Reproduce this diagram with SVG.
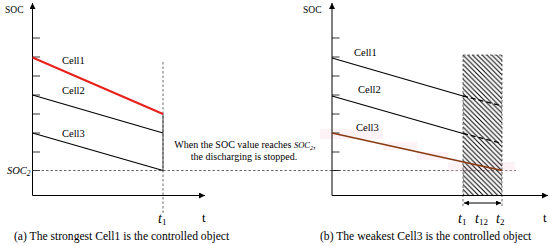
<svg xmlns="http://www.w3.org/2000/svg" width="550" height="246" viewBox="0 0 550 246">
<defs>
<marker id="ah" viewBox="0 0 10 10" refX="10" refY="5" markerWidth="9" markerHeight="6" orient="auto" markerUnits="userSpaceOnUse"><path d="M0,0 L10,5 L0,10 Z" fill="#000"/></marker>
<marker id="ah2" viewBox="0 0 10 10" refX="10" refY="5" markerWidth="7" markerHeight="5" orient="auto-start-reverse" markerUnits="userSpaceOnUse"><path d="M0,0 L10,5 L0,10 Z" fill="#000"/></marker>
<pattern id="hatch" patternUnits="userSpaceOnUse" width="4.8" height="4.8"><path d="M0,0 L4.8,4.8 M-1,3.8 L1,5.8 M3.8,-1 L5.8,1" stroke="#000" stroke-width="1"/></pattern>
</defs>
<style>
.ax{stroke:#000;stroke-width:1;fill:none}
.tk{stroke:#000;stroke-width:0.8}
.dash{stroke:#444;stroke-width:0.8;stroke-dasharray:2.5,2;fill:none}
.ln{stroke:#000;stroke-width:1.2;fill:none}
.txt{font-family:"Liberation Serif","Times New Roman",serif;fill:#000}
.lbl{font-size:10.5px}
.cap{font-size:11.6px}
.it{font-style:italic}
.pink{fill:#f9d6e6;opacity:0.3}
</style>
<rect width="550" height="246" fill="#fff"/>

<!-- left panel -->
<g id="left-axes">
<line class="ax" x1="32.5" y1="195.5" x2="32.5" y2="3" marker-end="url(#ah)"/>
<line class="ax" x1="32.5" y1="195.5" x2="205" y2="195.5" marker-end="url(#ah)"/>
<g class="tk">
<line x1="32.5" y1="38" x2="40" y2="38"/><line x1="32.5" y1="57" x2="40" y2="57"/><line x1="32.5" y1="76" x2="40" y2="76"/><line x1="32.5" y1="95" x2="40" y2="95"/><line x1="32.5" y1="114" x2="40" y2="114"/><line x1="32.5" y1="133" x2="40" y2="133"/><line x1="32.5" y1="152" x2="40" y2="152"/><line x1="32.5" y1="170.5" x2="40" y2="170.5"/>
</g>
<text class="txt" x="5" y="12.5" font-size="9.5">SOC</text>
<text class="txt" x="202" y="222" font-size="13">t</text>
<text class="txt it" x="158" y="223" font-size="14">t<tspan font-size="9" font-style="normal" dy="2">1</tspan></text>
<text class="txt it" x="7" y="174" font-size="10.5">SOC<tspan font-size="7.5" dy="2">2</tspan></text>
</g>

<g id="connectors">
<line class="dash" x1="32.5" y1="170.5" x2="516" y2="170.5"/>
<line class="dash" x1="163" y1="62" x2="163" y2="215"/>
<line x1="163" y1="114" x2="163" y2="170.5" stroke="#333" stroke-width="0.9"/>
</g>

<g id="cell1-left">
<line x1="32.5" y1="57.5" x2="163" y2="114" stroke="#e8201a" stroke-width="2"/>
<text class="txt lbl" x="62" y="64">Cell1</text>
</g>
<g id="cell2-left">
<line class="ln" x1="32.5" y1="95" x2="163" y2="133"/>
<text class="txt lbl" x="62" y="94">Cell2</text>
</g>
<g id="cell3-left">
<line class="ln" x1="32.5" y1="133" x2="163" y2="170.5"/>
<text class="txt lbl" x="62" y="137">Cell3</text>
</g>

<g id="note">
<text class="txt" x="245" y="148" font-size="10" text-anchor="middle">When the SOC value reaches <tspan class="it" font-size="8.5">SOC</tspan><tspan class="it" font-size="6.5" dy="2">2</tspan><tspan dy="-2">,</tspan></text>
<text class="txt" x="244" y="160" font-size="10" text-anchor="middle">the discharging is stopped.</text>
</g>

<text class="txt cap" x="14" y="240">(a) The strongest Cell1 is the controlled object</text>

<!-- right panel -->
<g id="pink-bands">
<rect class="pink" x="320" y="129" width="63" height="10"/>
<rect class="pink" x="383" y="142" width="34" height="8"/>
<rect class="pink" x="417" y="152" width="31" height="8"/>
<rect class="pink" x="448" y="162" width="67" height="10"/>
</g>

<g id="hatched-region">
<rect x="463" y="55" width="39" height="140.5" fill="url(#hatch)"/>
<line class="dash" x1="463" y1="55" x2="463" y2="208"/>
<line class="dash" x1="502" y1="55" x2="502" y2="208"/>
<line class="dash" x1="463" y1="55" x2="502" y2="55"/>
<line x1="464" y1="203" x2="501" y2="203" stroke="#000" stroke-width="1" marker-start="url(#ah2)" marker-end="url(#ah2)"/>
</g>

<g id="right-axes">
<line class="ax" x1="332" y1="195.5" x2="332" y2="3" marker-end="url(#ah)"/>
<line class="ax" x1="332" y1="195.5" x2="548" y2="195.5" marker-end="url(#ah)"/>
<g class="tk">
<line x1="332" y1="38" x2="339.5" y2="38"/><line x1="332" y1="57" x2="339.5" y2="57"/><line x1="332" y1="76" x2="339.5" y2="76"/><line x1="332" y1="95" x2="339.5" y2="95"/><line x1="332" y1="114" x2="339.5" y2="114"/><line x1="332" y1="133" x2="339.5" y2="133"/><line x1="332" y1="152" x2="339.5" y2="152"/><line x1="332" y1="170.5" x2="339.5" y2="170.5"/>
</g>
<text class="txt" x="303" y="12.5" font-size="9.5">SOC</text>
<text class="txt" x="543" y="222" font-size="13">t</text>
<text class="txt it" x="458" y="223" font-size="14">t<tspan font-size="9" font-style="normal" dy="2">1</tspan></text>
<text class="txt it" x="475" y="223" font-size="14">t<tspan font-size="9" font-style="normal" dy="2">12</tspan></text>
<text class="txt it" x="496" y="223" font-size="14">t<tspan font-size="9" font-style="normal" dy="2">2</tspan></text>
</g>

<g id="cell1-right">
<line class="ln" x1="332" y1="58" x2="463" y2="96"/>
<line x1="463" y1="96" x2="502" y2="106" stroke="#000" stroke-width="1.3" stroke-dasharray="5,3"/>
<text class="txt lbl" x="354" y="56">Cell1</text>
</g>
<g id="cell2-right">
<line class="ln" x1="332" y1="96" x2="463" y2="133.5"/>
<line x1="463" y1="133.5" x2="502" y2="143.5" stroke="#000" stroke-width="1.3" stroke-dasharray="5,3"/>
<text class="txt lbl" x="358" y="93">Cell2</text>
</g>
<g id="cell3-right">
<line x1="332" y1="133" x2="502" y2="170.5" stroke="#8a3a10" stroke-width="1.6"/>
<text class="txt lbl" x="356" y="131">Cell3</text>
</g>

<text class="txt cap" x="320" y="240">(b) The weakest Cell3 is the controlled object</text>
</svg>
